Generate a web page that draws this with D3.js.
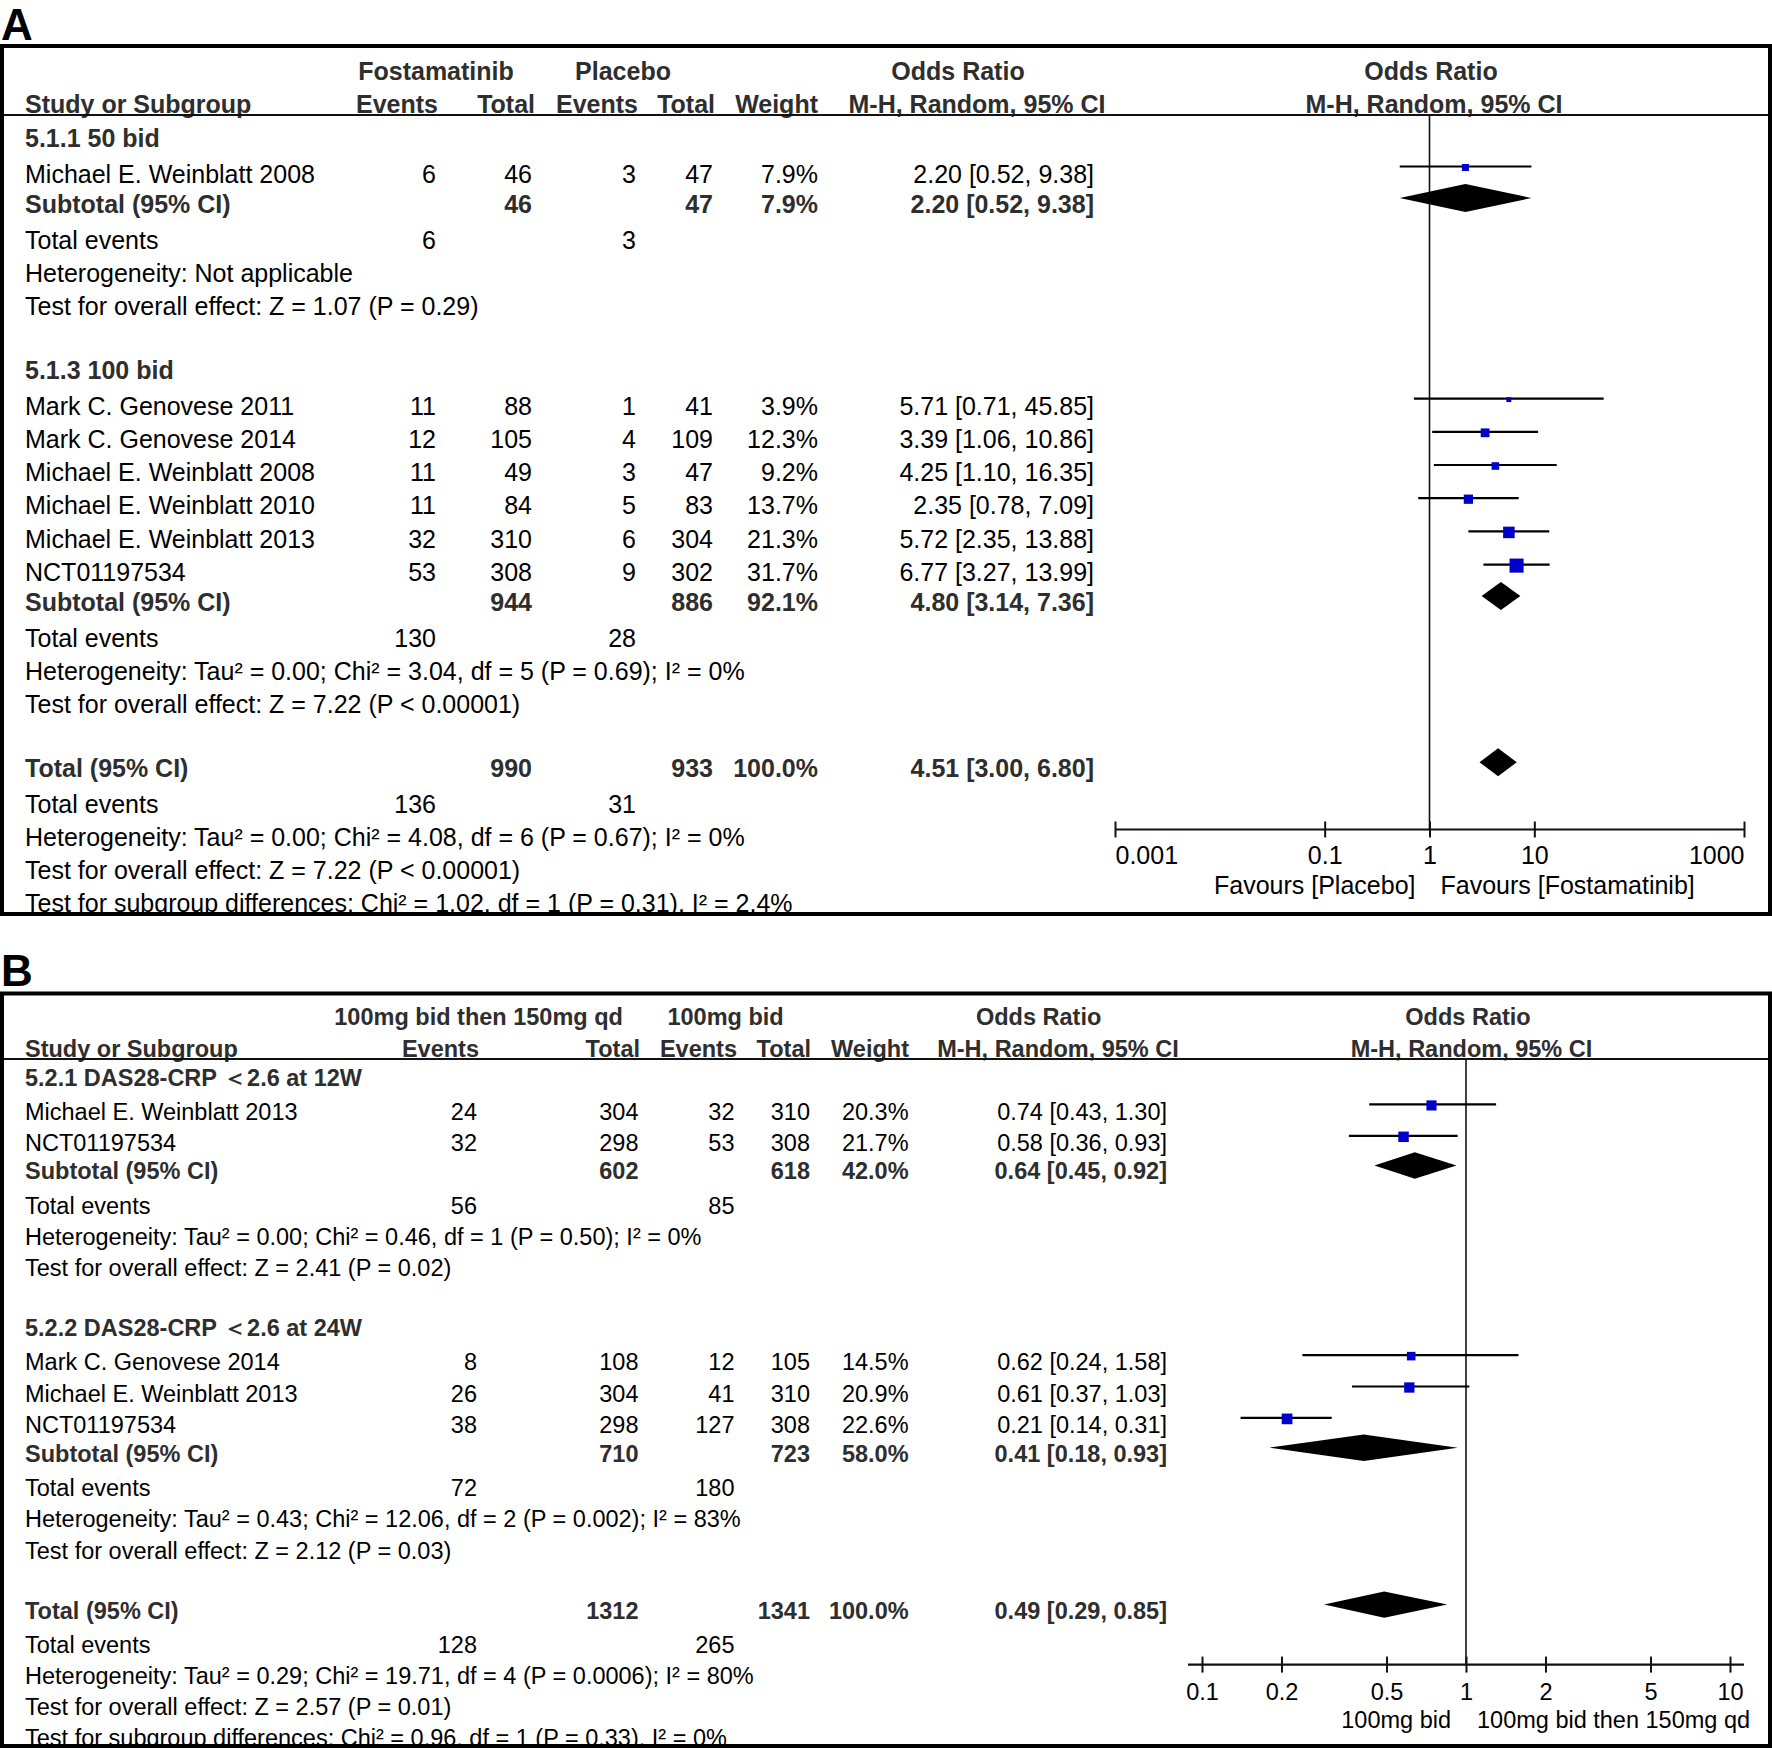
<!DOCTYPE html>
<html><head><meta charset="utf-8">
<script src="https://cdn.jsdelivr.net/npm/d3@7"></script>
<style>
body{margin:0;background:#fff}
svg{display:block}
text{font-family:"Liberation Sans", Arial, Helvetica, sans-serif}
</style>
</head><body>
<svg id="chart" width="1772" height="1750"></svg>
<script>
// ===================== DATA: Panel A =====================
const aGroupLabels = ["Fostamatinib", "Placebo"];
const aSubgroupNames = ["5.1.1 50 bid", "5.1.3 100 bid"];
const aStudyNames = ["Michael E. Weinblatt 2008", "Mark C. Genovese 2011", "Mark C. Genovese 2014",
  "Michael E. Weinblatt 2008", "Michael E. Weinblatt 2010", "Michael E. Weinblatt 2013", "NCT01197534"];
const aStudySubgroup = [0, 1, 1, 1, 1, 1, 1];
const aExpEvents = [6, 11, 12, 11, 11, 32, 53];
const aExpTotal = [46, 88, 105, 49, 84, 310, 308];
const aCtlEvents = [3, 1, 4, 3, 5, 6, 9];
const aCtlTotal = [47, 41, 109, 47, 83, 304, 302];
const aWeight = [7.9, 3.9, 12.3, 9.2, 13.7, 21.3, 31.7];
const aOR = [2.20, 5.71, 3.39, 4.25, 2.35, 5.72, 6.77];
const aLower = [0.52, 0.71, 1.06, 1.10, 0.78, 2.35, 3.27];
const aUpper = [9.38, 45.85, 10.86, 16.35, 7.09, 13.88, 13.99];
const aSubExpTotal = [46, 944];
const aSubCtlTotal = [47, 886];
const aSubWeight = [7.9, 92.1];
const aSubOR = [2.20, 4.80];
const aSubLower = [0.52, 3.14];
const aSubUpper = [9.38, 7.36];
const aSubExpEvents = [6, 130];
const aSubCtlEvents = [3, 28];
const aSubHeterogeneity = ["Heterogeneity: Not applicable",
  "Heterogeneity: Tau² = 0.00; Chi² = 3.04, df = 5 (P = 0.69); I² = 0%"];
const aSubOverall = ["Test for overall effect: Z = 1.07 (P = 0.29)",
  "Test for overall effect: Z = 7.22 (P < 0.00001)"];
const aTotalN = [990, 933];
const aTotalEvents = [136, 31];
const aTotalWeight = 100.0;
const aTotalEffect = [4.51, 3.00, 6.80];
const aTotalTexts = ["Heterogeneity: Tau² = 0.00; Chi² = 4.08, df = 6 (P = 0.67); I² = 0%",
  "Test for overall effect: Z = 7.22 (P < 0.00001)",
  "Test for subgroup differences: Chi² = 1.02, df = 1 (P = 0.31), I² = 2.4%"];
const aTicks = [0.001, 0.1, 1, 10, 1000];
const aTickLabels = ["0.001", "0.1", "1", "10", "1000"];
const aFavours = ["Favours [Placebo]", "Favours [Fostamatinib]"];

// ===================== DATA: Panel B =====================
const bGroupLabels = ["100mg bid then 150mg qd", "100mg bid"];
const bSubgroupNames = ["5.2.1 DAS28-CRP \uFF1C2.6 at 12W", "5.2.2 DAS28-CRP \uFF1C2.6 at 24W"];
const bStudyNames = ["Michael E. Weinblatt 2013", "NCT01197534",
  "Mark C. Genovese 2014", "Michael E. Weinblatt 2013", "NCT01197534"];
const bStudySubgroup = [0, 0, 1, 1, 1];
const bExpEvents = [24, 32, 8, 26, 38];
const bExpTotal = [304, 298, 108, 304, 298];
const bCtlEvents = [32, 53, 12, 41, 127];
const bCtlTotal = [310, 308, 105, 310, 308];
const bWeight = [20.3, 21.7, 14.5, 20.9, 22.6];
const bOR = [0.74, 0.58, 0.62, 0.61, 0.21];
const bLower = [0.43, 0.36, 0.24, 0.37, 0.14];
const bUpper = [1.30, 0.93, 1.58, 1.03, 0.31];
const bSubExpTotal = [602, 710];
const bSubCtlTotal = [618, 723];
const bSubWeight = [42.0, 58.0];
const bSubOR = [0.64, 0.41];
const bSubLower = [0.45, 0.18];
const bSubUpper = [0.92, 0.93];
const bSubExpEvents = [56, 72];
const bSubCtlEvents = [85, 180];
const bSubHeterogeneity = ["Heterogeneity: Tau² = 0.00; Chi² = 0.46, df = 1 (P = 0.50); I² = 0%",
  "Heterogeneity: Tau² = 0.43; Chi² = 12.06, df = 2 (P = 0.002); I² = 83%"];
const bSubOverall = ["Test for overall effect: Z = 2.41 (P = 0.02)",
  "Test for overall effect: Z = 2.12 (P = 0.03)"];
const bTotalN = [1312, 1341];
const bTotalEvents = [128, 265];
const bTotalWeight = 100.0;
const bTotalEffect = [0.49, 0.29, 0.85];
const bTotalTexts = ["Heterogeneity: Tau² = 0.29; Chi² = 19.71, df = 4 (P = 0.0006); I² = 80%",
  "Test for overall effect: Z = 2.57 (P = 0.01)",
  "Test for subgroup differences: Chi² = 0.96, df = 1 (P = 0.33), I² = 0%"];
const bTicks = [0.1, 0.2, 0.5, 1, 2, 5, 10];
const bTickLabels = ["0.1", "0.2", "0.5", "1", "2", "5", "10"];
const bFavours = ["100mg bid", "100mg bid then 150mg qd"];

// ===================== LAYOUT (positions / styles) =====================
const layoutA = {
  label: "A", labelY: 40, left: 2, right: 1770, top: 46, bottom: 914,
  fs: 25, unit: 1, firstRow: 138, head1: 71, head2: 104, headerLine: 115,
  col: { expEv: 436, expTot: 532, ctlEv: 636, ctlTot: 713, weight: 818, est: 1094 },
  hx: { g1: 436, g2: 623, or1: 958, or2: 977, p1: 1431, p2: 1434, expEv: 438, expTot: 535, ctlEv: 638, ctlTot: 715, weight: 818 },
  xRange: [1115, 1744], axisY: 829.5, axisExtend: 0, tickLabelDy: 25.5, favDy: 55.5, edgeAnchor: true,
  favLeftGap: 14, favRightGap: 11, sqMax: 25
};
const layoutB = {
  label: "B", labelY: 986, left: 2, right: 1770, top: 993.5, bottom: 1746,
  fs: 23.5, unit: 0.945, firstRow: 1077.5, head1: 1017, head2: 1049, headerLine: 1059,
  col: { expEv: 477, expTot: 638.5, ctlEv: 734.5, ctlTot: 810, weight: 908.6, est: 1167 },
  hx: { g1: 478.6, g2: 725.6, or1: 1038.6, or2: 1058, p1: 1468, p2: 1471.5, expEv: 479, expTot: 640, ctlEv: 737, ctlTot: 811, weight: 909 },
  xRange: [1202, 1730], axisY: 1664.6, axisExtend: 14, tickLabelDy: 27.5, favDy: 55.5, edgeAnchor: false,
  favLeftGap: 15, favRightGap: 11, sqMax: 22.5
};
const STEP = { "header>study": 36, "study>study": 33.2, "study>subtotal": 30, "subtotal>events": 36.5,
  "total>events": 36, "events>text": 33, "text>text": 33.1, "text>header": 63.5, "text>total": 63.5 };

const svg = d3.select("#chart");
const defs = svg.append("defs");
const f2 = d3.format(".2f");
const fw = v => d3.format(".1f")(v) + "%";
const est = (o, l, u) => `${f2(o)} [${f2(l)}, ${f2(u)}]`;

function buildPanel(p) {
  const rows = [];
  p.subgroups.forEach((name, gi) => {
    rows.push({ type: "header", text: name });
    p.names.forEach((n, i) => { if (p.sub[i] === gi) rows.push({ type: "study", i }); });
    rows.push({ type: "subtotal", g: gi });
    rows.push({ type: "events", e1: p.subE1[gi], e2: p.subE2[gi] });
    rows.push({ type: "text", text: p.subHet[gi] });
    rows.push({ type: "text", text: p.subZ[gi] });
  });
  rows.push({ type: "total" });
  rows.push({ type: "events", e1: p.totEvents[0], e2: p.totEvents[1] });
  p.totTexts.forEach(t => rows.push({ type: "text", text: t }));
  return rows;
}

function drawPanel(p, L) {
  const fs = L.fs, u = L.unit;
  const clipId = "clip" + L.label;
  defs.append("clipPath").attr("id", clipId).append("rect")
    .attr("x", L.left).attr("y", L.top).attr("width", L.right - L.left).attr("height", L.bottom - L.top);
  const root = svg.append("g");
  const c = root.append("g").attr("clip-path", `url(#${clipId})`);
  const txt = (x, yc, s, anchor, bold) => c.append("text")
    .attr("x", x).attr("y", yc + 0.35 * fs)
    .attr("text-anchor", anchor || "start")
    .attr("font-size", fs).attr("font-weight", bold ? "bold" : "normal")
    .attr("fill", bold ? "#2e2e2e" : "#000").text(s);

  // panel label
  root.append("text").attr("x", 1).attr("y", L.labelY).attr("font-size", 44).attr("font-weight", "bold")
    .attr("fill", "#000").text(L.label);

  // headers
  txt(L.hx.g1, L.head1, p.groups[0], "middle", true);
  txt(L.hx.g2, L.head1, p.groups[1], "middle", true);
  txt(L.hx.or1, L.head1, "Odds Ratio", "middle", true);
  txt(L.hx.p1, L.head1, "Odds Ratio", "middle", true);
  txt(25, L.head2, "Study or Subgroup", "start", true);
  txt(L.hx.expEv, L.head2, "Events", "end", true);
  txt(L.hx.expTot, L.head2, "Total", "end", true);
  txt(L.hx.ctlEv, L.head2, "Events", "end", true);
  txt(L.hx.ctlTot, L.head2, "Total", "end", true);
  txt(L.hx.weight, L.head2, "Weight", "end", true);
  txt(L.hx.or2, L.head2, "M-H, Random, 95% CI", "middle", true);
  txt(L.hx.p2, L.head2, "M-H, Random, 95% CI", "middle", true);
  c.append("line").attr("x1", L.left).attr("x2", L.right).attr("y1", L.headerLine).attr("y2", L.headerLine)
    .attr("stroke", "#111").attr("stroke-width", 2);

  // scales
  const x = d3.scaleLog().domain([p.ticks[0], p.ticks[p.ticks.length - 1]]).range(L.xRange);
  const sq = d3.scaleSqrt().domain([0, 100]).range([0, L.sqMax]);

  // reference line at OR = 1
  c.append("line").attr("x1", x(1)).attr("x2", x(1)).attr("y1", L.headerLine).attr("y2", L.axisY)
    .attr("stroke", "#111").attr("stroke-width", 1.6);

  // rows
  const rows = buildPanel(p);
  let y = L.firstRow, prev = null;
  const C = L.col;
  const diamond = (yc, o, l, h) => {
    const dy = yc - 6 * u, hh = 14 * u;
    c.append("path").attr("d", `M${x(l)},${dy} L${x(o)},${dy - hh} L${x(h)},${dy} L${x(o)},${dy + hh} Z`)
      .attr("fill", "#000");
  };
  rows.forEach(r => {
    if (prev) {
      const key = prev + ">" + r.type;
      y += (STEP[key] || 33.1) * u;
    }
    prev = r.type;
    if (r.type === "header") {
      txt(25, y, r.text, "start", true);
    } else if (r.type === "study") {
      const i = r.i;
      txt(25, y, p.names[i]);
      txt(C.expEv, y, p.e1[i], "end");
      txt(C.expTot, y, p.n1[i], "end");
      txt(C.ctlEv, y, p.e2[i], "end");
      txt(C.ctlTot, y, p.n2[i], "end");
      txt(C.weight, y, fw(p.w[i]), "end");
      txt(C.est, y, est(p.or[i], p.lo[i], p.hi[i]), "end");
      const ly = y - 7.5 * u;
      c.append("line").attr("x1", x(p.lo[i])).attr("x2", x(p.hi[i])).attr("y1", ly).attr("y2", ly)
        .attr("stroke", "#000").attr("stroke-width", 2.2);
      const s = sq(p.w[i]);
      c.append("rect").attr("x", x(p.or[i]) - s / 2).attr("y", ly + 1 - s / 2)
        .attr("width", s).attr("height", s).attr("fill", "#0000cc");
    } else if (r.type === "subtotal") {
      const g = r.g;
      txt(25, y, "Subtotal (95% CI)", "start", true);
      txt(C.expTot, y, p.subN1[g], "end", true);
      txt(C.ctlTot, y, p.subN2[g], "end", true);
      txt(C.weight, y, fw(p.subW[g]), "end", true);
      txt(C.est, y, est(p.subOR[g], p.subLo[g], p.subHi[g]), "end", true);
      diamond(y, p.subOR[g], p.subLo[g], p.subHi[g]);
    } else if (r.type === "total") {
      txt(25, y, "Total (95% CI)", "start", true);
      txt(C.expTot, y, p.totN[0], "end", true);
      txt(C.ctlTot, y, p.totN[1], "end", true);
      txt(C.weight, y, fw(p.totW), "end", true);
      txt(C.est, y, est(p.totEff[0], p.totEff[1], p.totEff[2]), "end", true);
      diamond(y, p.totEff[0], p.totEff[1], p.totEff[2]);
    } else if (r.type === "events") {
      txt(25, y, "Total events");
      txt(C.expEv, y, r.e1, "end");
      txt(C.ctlEv, y, r.e2, "end");
    } else {
      txt(25, y, r.text);
    }
  });

  // axis
  const axis = d3.axisBottom(x).tickValues(p.ticks).tickFormat((d, i) => p.tickLabels[i])
    .tickSizeInner(8).tickSizeOuter(0);
  const ag = c.append("g").attr("transform", `translate(0,${L.axisY})`).call(axis);
  ag.select(".domain").remove();
  ag.attr("font-family", null).attr("font-size", null);
  ag.selectAll(".tick line").attr("y1", -8).attr("y2", 8).attr("stroke", "#111").attr("stroke-width", 2);
  const n = p.ticks.length;
  ag.selectAll(".tick text").attr("y", L.tickLabelDy + 0.35 * fs).attr("dy", null)
    .attr("font-size", fs).attr("fill", "#000")
    .attr("text-anchor", (d, i) => L.edgeAnchor ? (i === 0 ? "start" : (i === n - 1 ? "end" : "middle")) : "middle");
  c.append("line").attr("x1", L.xRange[0] - L.axisExtend).attr("x2", L.xRange[1] + L.axisExtend)
    .attr("y1", L.axisY).attr("y2", L.axisY).attr("stroke", "#111").attr("stroke-width", 2.2);
  txt(x(1) - L.favLeftGap, L.axisY + L.favDy, p.favours[0], "end");
  txt(x(1) + L.favRightGap, L.axisY + L.favDy, p.favours[1], "start");

  // border
  root.append("rect").attr("x", L.left).attr("y", L.top).attr("width", L.right - L.left)
    .attr("height", L.bottom - L.top).attr("fill", "none").attr("stroke", "#000").attr("stroke-width", 4);
}

drawPanel({
  groups: aGroupLabels, subgroups: aSubgroupNames, names: aStudyNames, sub: aStudySubgroup,
  e1: aExpEvents, n1: aExpTotal, e2: aCtlEvents, n2: aCtlTotal, w: aWeight, or: aOR, lo: aLower, hi: aUpper,
  subN1: aSubExpTotal, subN2: aSubCtlTotal, subW: aSubWeight, subOR: aSubOR, subLo: aSubLower, subHi: aSubUpper,
  subE1: aSubExpEvents, subE2: aSubCtlEvents, subHet: aSubHeterogeneity, subZ: aSubOverall,
  totN: aTotalN, totEvents: aTotalEvents, totW: aTotalWeight, totEff: aTotalEffect, totTexts: aTotalTexts,
  ticks: aTicks, tickLabels: aTickLabels, favours: aFavours
}, layoutA);

drawPanel({
  groups: bGroupLabels, subgroups: bSubgroupNames, names: bStudyNames, sub: bStudySubgroup,
  e1: bExpEvents, n1: bExpTotal, e2: bCtlEvents, n2: bCtlTotal, w: bWeight, or: bOR, lo: bLower, hi: bUpper,
  subN1: bSubExpTotal, subN2: bSubCtlTotal, subW: bSubWeight, subOR: bSubOR, subLo: bSubLower, subHi: bSubUpper,
  subE1: bSubExpEvents, subE2: bSubCtlEvents, subHet: bSubHeterogeneity, subZ: bSubOverall,
  totN: bTotalN, totEvents: bTotalEvents, totW: bTotalWeight, totEff: bTotalEffect, totTexts: bTotalTexts,
  ticks: bTicks, tickLabels: bTickLabels, favours: bFavours
}, layoutB);
</script>
</body></html>
